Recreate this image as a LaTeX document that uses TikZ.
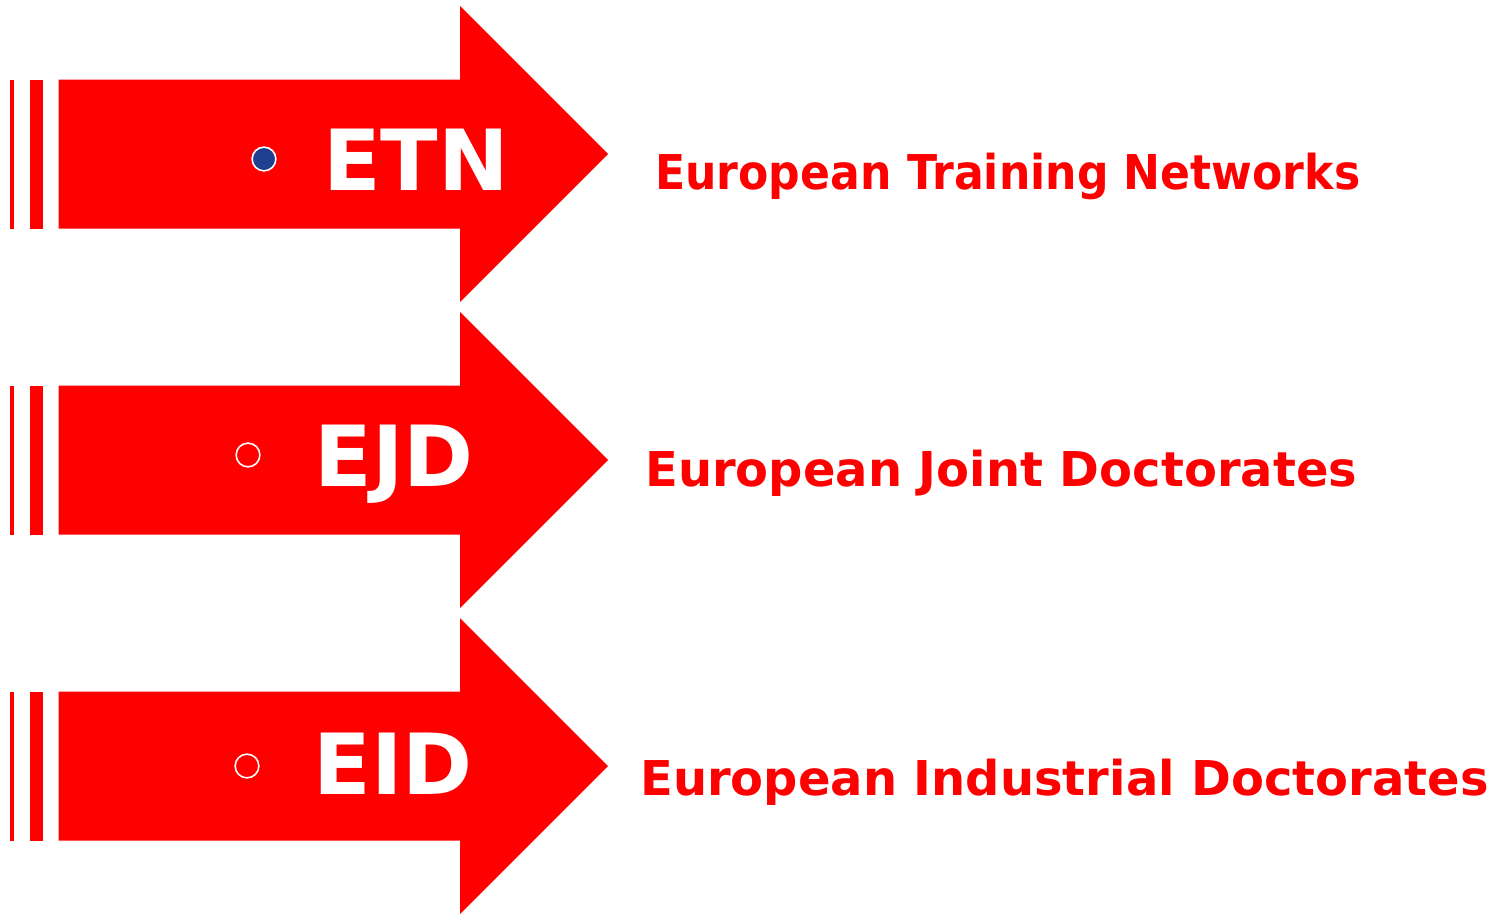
\documentclass[tikz,border=0pt]{standalone}
\usepackage{fontspec}
\setmainfont{DejaVu Sans}
\newfontfamily\narrowfont[FakeStretch=0.92]{DejaVu Sans}
\usepackage{tikz}
\usepackage{xcolor}
\definecolor{cArrow}{HTML}{FF0000}
\definecolor{cDot}  {HTML}{1F3F8F}
\tikzset{
  acro/.style={font=\fontsize{48}{52}\selectfont\bfseries, text=white,
               inner sep=0pt, anchor=base},
  desc/.style={font=\fontsize{27.3}{30}\selectfont\bfseries, text=cArrow,
               inner sep=0pt, anchor=base west},
  dot/.style={circle, draw=white, line width=0.9pt, minimum size=13.5pt, inner sep=0pt},
}
% one red arrow with its two stripes, centred at height #1
\newcommand{\redarrow}[1]{%
  \fill[cArrow] (10,#1-74.5) rectangle (14,#1+74.5);
  \fill[cArrow] (29.5,#1-74.5) rectangle (43,#1+74.5);
  \fill[cArrow] (58.5,#1-74.5) -- (460,#1-74.5) -- (460,#1-148)
     -- (608,#1) -- (460,#1+148) -- (460,#1+74.5) -- (58.5,#1+74.5) -- cycle;
}

\begin{document}
\begin{tikzpicture}[x=0.02cm, y=-0.02cm]
\useasboundingbox (0,0) rectangle (1496,913);

% ── Y levels ──────────────────────────────────────────────────────────────────
\def\yone{154}
\def\ytwo{460}
\def\ythree{766}

% ── Arrows ────────────────────────────────────────────────────────────────────
\redarrow{\yone}
\redarrow{\ytwo}
\redarrow{\ythree}

% ── Bullets ───────────────────────────────────────────────────────────────────
\node[dot, fill=cDot] (dot1) at (264, 159) {};
\node[dot]            (dot2) at (248, 455) {};
\node[dot]            (dot3) at (247, 766) {};

% ── Acronyms ──────────────────────────────────────────────────────────────────
\node[acro] (etn) at (416, 190) {ETN};
\node[acro] (ejd) at (394, 486) {EJD};
\node[acro] (eid) at (393, 794) {EID};

% ── Descriptions ──────────────────────────────────────────────────────────────
\node[desc] (etnlbl) at (655, 189) {\narrowfont\bfseries European Training Networks};
\node[desc] (ejdlbl) at (645, 486) {European Joint Doctorates};
\node[desc] (eidlbl) at (640, 795) {European Industrial Doctorates};

\end{tikzpicture}
\end{document}
